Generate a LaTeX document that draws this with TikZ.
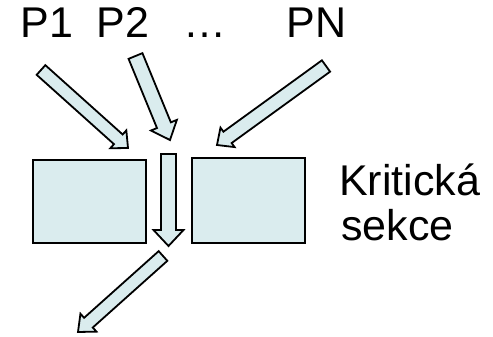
\documentclass[tikz,border=0pt]{standalone}
\usepackage{fontspec}
\setmainfont{Liberation Sans}
\usetikzlibrary{calc}
\definecolor{boxfill}{RGB}{218,236,238}
\tikzset{
  blockshape/.style={draw=black, fill=boxfill, line width=1.8pt, line join=miter},
  label/.style={font=\fontsize{43}{50}\selectfont, inner sep=0pt, anchor=base west},
}
% block arrow: name, tail, tip, shaft half width, head half width, head length
\newcommand{\blockarrow}[6]{%
  \coordinate (#1-t) at #2;
  \coordinate (#1-p) at #3;
  \coordinate (#1-h) at ($(#1-p)!#6!(#1-t)$);
  \draw[blockshape]
    ($(#1-t)!#4!90:(#1-p)$) -- ($(#1-h)!#4!90:(#1-p)$) --
    ($(#1-h)!#5!90:(#1-p)$) -- (#1-p) --
    ($(#1-h)!#5!-90:(#1-p)$) -- ($(#1-h)!#4!-90:(#1-p)$) --
    ($(#1-t)!#4!-90:(#1-p)$) -- cycle;
}
\begin{document}
\begin{tikzpicture}[x=1pt, y=-1pt]
  \useasboundingbox (0,0) rectangle (493,337);
  % process labels
  \node[label] (p1) at (20.5,38) {P1};
  \node[label] (p2) at (96.5,38) {P2};
  \node[label] (dots) at (183,38) {…};
  \node[label] (pn) at (286.5,38) {PN};
  % critical section blocks
  \draw[blockshape] (33,160) rectangle (146,243);
  \draw[blockshape] (192,158) rectangle (305,243);
  \node[label] (k1) at (339,195) {Kritická};
  \node[label] (k2) at (341,240) {sekce};
  % incoming arrows
  \blockarrow{a1}{(41,70)}{(128,148)}{6.5pt}{12pt}{13pt}
  \blockarrow{a2}{(135.5,56)}{(170,140)}{7.5pt}{14pt}{16pt}
  \blockarrow{a3}{(326,66)}{(217,145)}{7pt}{12pt}{13pt}
  % passage through the section
  \blockarrow{a4}{(168.5,154)}{(168.5,246)}{7.5pt}{15pt}{16pt}
  % outgoing arrow
  \blockarrow{a5}{(163,256)}{(78,332)}{6.5pt}{12pt}{14pt}
\end{tikzpicture}
\end{document}
